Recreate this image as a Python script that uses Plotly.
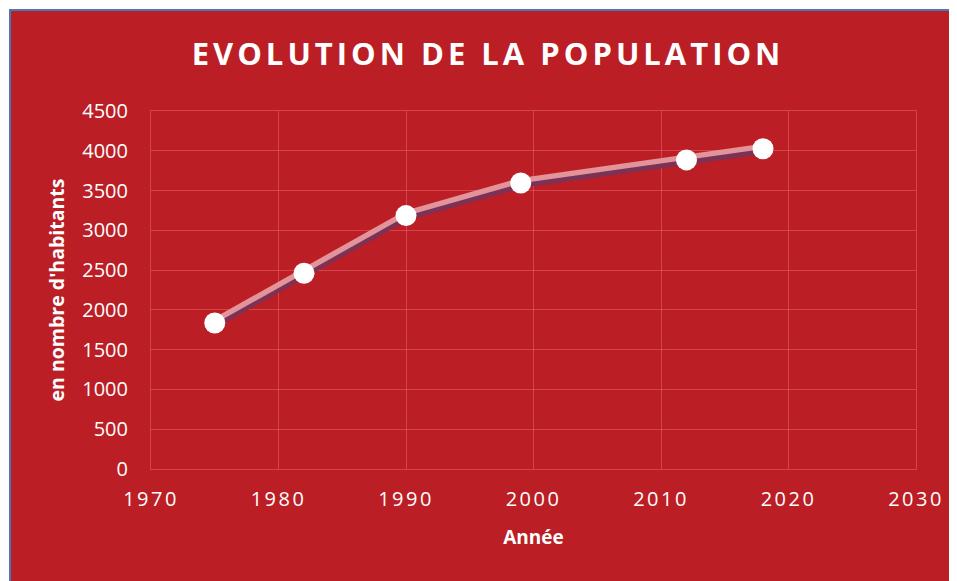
import plotly.graph_objects as go

years = [1975, 1982, 1990, 1999, 2012, 2018]
population = [1835, 2460, 3185, 3595, 3885, 4025]

x_ticks = [1970, 1980, 1990, 2000, 2010, 2020, 2030]
y_ticks = [0, 500, 1000, 1500, 2000, 2500, 3000, 3500, 4000, 4500]

title_text = "EVOLUTION DE LA POPULATION"
x_title = "Année"
y_title = "en nombre d'habitants"

RED = "#BB1E24"
GRID = "rgba(235,100,105,0.55)"
FONT = "Open Sans"

OFF = 8                      # page body margin
W, H = 957 - OFF, 581 - OFF
L, T = 151 - OFF, 111 - OFF
R = W - (916 - OFF)
B = H - (469 - OFF)
pw, ph = W - L - R, H - T - B
d_px = 2.4
d = d_px * 4500 / ph

fig = go.Figure()
# hover layer on the main axis (true values)
fig.add_trace(go.Scatter(x=years, y=population, mode="markers",
                         marker=dict(size=21, opacity=0),
                         hovertemplate="%{x}: %{y}<extra></extra>"))
# dark "shadow" line a few pixels below
fig.add_trace(go.Scatter(x=years, y=population, mode="lines", yaxis="y2",
                         line=dict(color="#7A3257", width=5.5), hoverinfo="skip"))
# light line a few pixels above
fig.add_trace(go.Scatter(x=years, y=population, mode="lines", yaxis="y3",
                         line=dict(color="#E3939A", width=5.5), hoverinfo="skip"))
# white markers at the true values
fig.add_trace(go.Scatter(x=years, y=population, mode="markers", yaxis="y4",
                         marker=dict(color="white", size=21, line=dict(width=0)),
                         hoverinfo="skip"))

fig.add_shape(type="rect", xref="paper", yref="paper", layer="below",
              x0=(2 - L) / pw, x1=1.3, y0=-0.5, y1=(H - B - 2) / ph,
              fillcolor=RED, line=dict(color="#4A78B5", width=2))

axis_common = dict(showgrid=True, gridcolor=GRID, gridwidth=1, showline=True,
                   linecolor=GRID, linewidth=1, mirror=True, zeroline=False,
                   ticks="outside", tickcolor="rgba(0,0,0,0)")

fig.update_layout(
    width=W, height=H,
    margin=dict(l=L, r=R, t=T, b=B),
    paper_bgcolor="white",
    plot_bgcolor="rgba(0,0,0,0)",
    showlegend=False,
    title=dict(text=title_text, x=(488 - OFF) / W, xref="container",
               xanchor="center", y=1 - (54 - OFF) / H, yanchor="middle",
               font=dict(family=FONT, size=31, color="white", weight="bold")),
    xaxis=dict(range=[1970, 2030], tickvals=x_ticks, ticklen=12,
               tickfont=dict(family=FONT, size=20, color="white"),
               title=dict(text=x_title, standoff=19,
                          font=dict(family=FONT, size=19, color="white", weight="bold")),
               **axis_common),
    yaxis=dict(range=[0, 4500], tickvals=y_ticks, ticklen=18,
               tickfont=dict(family=FONT, size=20, color="white"),
               title=dict(text=y_title, standoff=12,
                          font=dict(family=FONT, size=19.5, color="white", weight="bold")),
               **axis_common),
    yaxis2=dict(range=[d, 4500 + d], overlaying="y", visible=False),
    yaxis3=dict(range=[-d, 4500 - d], overlaying="y", visible=False),
    yaxis4=dict(range=[0, 4500], overlaying="y", visible=False),
)

post = """
var gd = document.getElementById('{plot_id}');
function spacing(){
  gd.querySelectorAll('.gtitle').forEach(function(e){ e.style.letterSpacing='4px'; });
  gd.querySelectorAll('.xtick text').forEach(function(e){ e.style.letterSpacing='2.5px'; });
}
spacing();
gd.on('plotly_afterplot', spacing);
"""
fig.write_html("out.html", post_script=post)
